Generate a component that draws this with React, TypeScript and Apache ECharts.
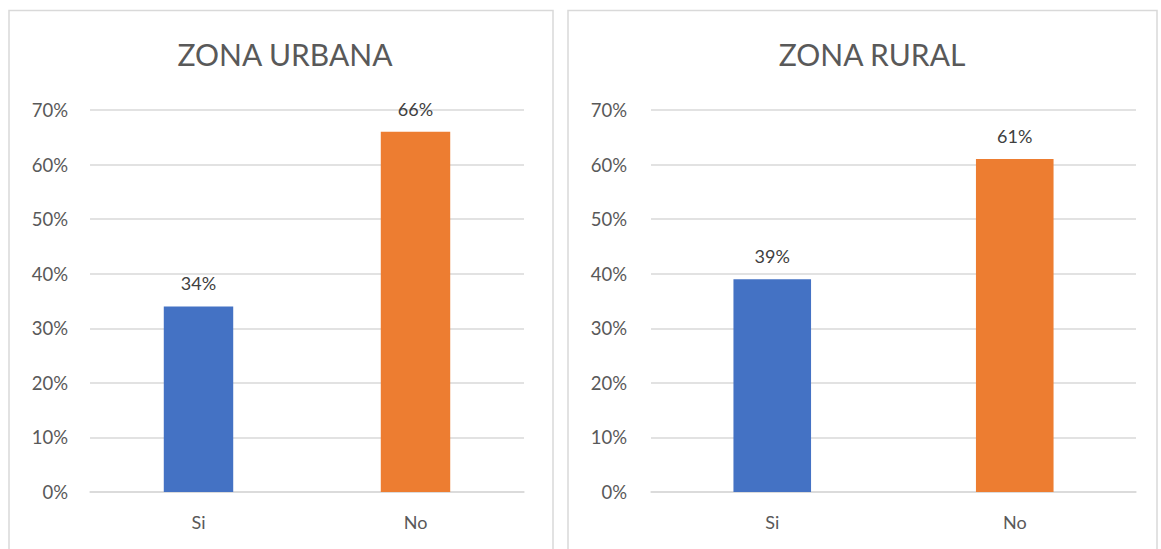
import React, { useEffect, useRef } from "react";
import * as echarts from "echarts";

const categories = ["Si", "No"];
const urbanValues = [0.34, 0.66];
const ruralValues = [0.39, 0.61];
const yTicks = [0, 0.1, 0.2, 0.3, 0.4, 0.5, 0.6, 0.7];
const titles = ["ZONA URBANA", "ZONA RURAL"];
const barColors = ["#4472C4", "#ED7D31"];

const FONT = "Lato, 'Open Sans', sans-serif";
const TEXT = "#595959";

export default function App() {
  const ref = useRef<HTMLDivElement>(null);
  useEffect(() => {
    if (!ref.current) return;
    const chart = echarts.init(ref.current, undefined, { renderer: "svg" });
    const grids = [
      { left: 90, right: 637, top: 110, bottom: 57 },
      { left: 651, right: 25, top: 110, bottom: 57 },
    ];
    const mkX = (i: number) => ({
      type: "category",
      gridIndex: i,
      data: categories,
      axisLine: { show: true, lineStyle: { color: "#d9d9d9", width: 1.5 } },
      axisTick: { show: false },
      axisLabel: { color: TEXT, fontSize: 18, fontFamily: FONT, margin: 21 },
    });
    const mkY = (i: number) => ({
      type: "value",
      gridIndex: i,
      min: 0,
      max: yTicks[yTicks.length - 1],
      interval: 0.1,
      axisLine: { show: false },
      axisTick: { show: false },
      splitLine: { lineStyle: { color: "#d9d9d9", width: 1.5 } },
      axisLabel: {
        color: TEXT,
        fontSize: 18.5,
        fontFamily: FONT,
        margin: i === 0 ? 22 : 24,
        formatter: (v: number) => Math.round(v * 100) + "%",
      },
    });
    const mkSeries = (i: number, vals: number[]) => ({
      type: "bar",
      xAxisIndex: i,
      yAxisIndex: i,
      barWidth: "32%",
      data: vals.map((v, k) => ({ value: v, itemStyle: { color: barColors[k] } })),
      label: {
        show: true,
        position: "top",
        distance: 14,
        color: "#404040",
        fontSize: 18,
        fontFamily: FONT,
        formatter: (p: any) => Math.round(p.value * 100) + "%",
      },
    });
    const titleStyle = { color: TEXT, fontSize: 30, fontWeight: "normal", fontFamily: FONT };
    chart.setOption({
      animation: false,
      backgroundColor: "#ffffff",
      title: [
        { text: titles[0], left: 280, top: 34, textAlign: "center", textStyle: titleStyle },
        { text: titles[1], left: 867, top: 34, textAlign: "center", textStyle: titleStyle },
      ],
      graphic: [
        {
          type: "rect",
          shape: { x: 9, y: 10.5, width: 544, height: 560 },
          style: { fill: "none", stroke: "#d9d9d9", lineWidth: 1.5 },
          silent: true,
        },
        {
          type: "rect",
          shape: { x: 568, y: 10.5, width: 589, height: 560 },
          style: { fill: "none", stroke: "#d9d9d9", lineWidth: 1.5 },
          silent: true,
        },
      ],
      grid: grids,
      xAxis: [mkX(0), mkX(1)],
      yAxis: [mkY(0), mkY(1)],
      series: [mkSeries(0, urbanValues), mkSeries(1, ruralValues)],
    });
    return () => chart.dispose();
  }, []);
  return (
    <div
      ref={ref}
      style={{ position: "fixed", left: 0, top: 0, width: 1161, height: 549 }}
    />
  );
}
